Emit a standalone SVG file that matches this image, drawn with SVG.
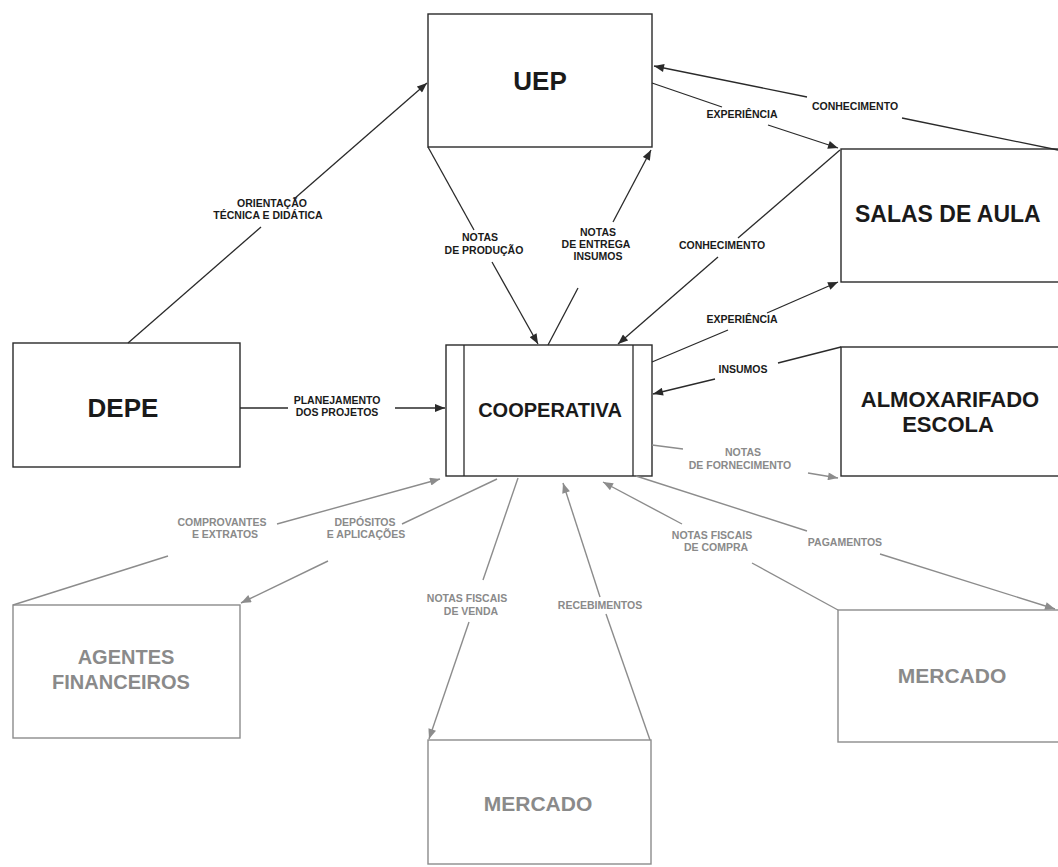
<svg xmlns="http://www.w3.org/2000/svg" width="1058" height="867" viewBox="0 0 1058 867">
<style>
.box{fill:#fff;stroke:#2a2a2a;stroke-width:1.4}
.gbox{fill:#fff;stroke:#8c8c8c;stroke-width:1.4}
.t{font-family:"Liberation Sans",Arial,sans-serif;font-weight:bold;fill:#1a1a1a;text-anchor:middle}
.gt{font-family:"Liberation Sans",Arial,sans-serif;font-weight:bold;fill:#8a8a8a;text-anchor:middle}
.lbl{font-size:10.5px}
.ln{fill:none;stroke:#2a2a2a;stroke-width:1.3}
.gln{fill:none;stroke:#8c8c8c;stroke-width:1.4}
</style>
<defs>
<marker id="ah" viewBox="0 0 10 8" refX="10" refY="4" markerWidth="11" markerHeight="8" orient="auto" markerUnits="userSpaceOnUse"><path d="M0,0 L10,4 L0,8 z" fill="#2a2a2a"/></marker>
<marker id="gah" viewBox="0 0 10 8" refX="10" refY="4" markerWidth="11" markerHeight="8" orient="auto" markerUnits="userSpaceOnUse"><path d="M0,0 L10,4 L0,8 z" fill="#8c8c8c"/></marker>
</defs>
<rect width="1058" height="867" fill="#fff"/>

<g id="uep"><rect class="box" x="428" y="14" width="224" height="133"/><text class="t" x="540" y="90" font-size="26">UEP</text></g>
<g id="cooperativa"><rect class="box" x="446" y="345" width="206" height="131"/><line class="ln" x1="464" y1="345" x2="464" y2="476"/><line class="ln" x1="633" y1="345" x2="633" y2="476"/><text class="t" x="550" y="417" font-size="20">COOPERATIVA</text></g>
<g id="depe"><rect class="box" x="13" y="343" width="227" height="124"/><text class="t" x="123" y="417" font-size="26">DEPE</text></g>
<g id="salas"><rect class="box" x="841" y="149" width="240" height="133"/><text class="t" x="855" y="222" font-size="23" style="text-anchor:start">SALAS DE AULA</text></g>
<g id="almoxarifado"><rect class="box" x="841" y="347" width="240" height="129"/><text class="t" x="950" y="407" font-size="22">ALMOXARIFADO</text><text class="t" x="948" y="432" font-size="22">ESCOLA</text></g>
<g id="agentes"><rect class="gbox" x="13" y="605" width="227" height="133"/><text class="gt" x="126" y="664" font-size="20">AGENTES</text><text class="gt" x="121" y="689" font-size="20">FINANCEIROS</text></g>
<g id="mercado-direita"><rect class="gbox" x="838" y="610" width="240" height="132"/><text class="gt" x="952" y="683" font-size="21">MERCADO</text></g>
<g id="mercado-baixo"><rect class="gbox" x="428" y="740" width="223" height="124"/><text class="gt" x="538" y="811" font-size="21">MERCADO</text></g>

<g id="connectors">
<path class="ln" d="M128,343 L261,227"/><path class="ln" d="M294,199 L427,83" marker-end="url(#ah)"/>
<path class="ln" d="M428,147 L474,230"/><path class="ln" d="M492,262 L538,344" marker-end="url(#ah)"/>
<path class="ln" d="M548,345 L578,288"/><path class="ln" d="M613,222 L651,150" marker-end="url(#ah)"/>
<path class="ln" d="M652,83 L722,107"/><path class="ln" d="M768,125 L838,148" marker-end="url(#ah)"/>
<path class="ln" d="M1058,150 L902,118"/><path class="ln" d="M807,97 L654,66" marker-end="url(#ah)"/>
<path class="ln" d="M840,150 L738,238"/><path class="ln" d="M718,257 L618,344" marker-end="url(#ah)"/>
<path class="ln" d="M652,362 L728,330"/><path class="ln" d="M767,313 L838,282" marker-end="url(#ah)"/>
<path class="ln" d="M841,347 L778,363"/><path class="ln" d="M715,379 L653,394" marker-end="url(#ah)"/>
<path class="ln" d="M240,408 L288,408"/><path class="ln" d="M395,408 L445,408" marker-end="url(#ah)"/>
<path class="gln" d="M652,445 L683,449"/><path class="gln" d="M808,473 L838,478" marker-end="url(#gah)"/>
<path class="gln" d="M13,605 L168,556"/><path class="gln" d="M277,524 L440,479" marker-end="url(#gah)"/>
<path class="gln" d="M497,479 L402,524"/><path class="gln" d="M328,561 L241,603" marker-end="url(#gah)"/>
<path class="gln" d="M518,478 L483,580"/><path class="gln" d="M469,622 L429,739" marker-end="url(#gah)"/>
<path class="gln" d="M650,740 L606,614"/><path class="gln" d="M600,597 L563,483" marker-end="url(#gah)"/>
<path class="gln" d="M838,610 L752,563"/><path class="gln" d="M682,524 L603,482" marker-end="url(#gah)"/>
<path class="gln" d="M636,476 L807,531"/><path class="gln" d="M880,554 L1055,609" marker-end="url(#gah)"/>
</g>

<g id="labels">
<text class="t lbl" x="272" y="207">ORIENTAÇÃO</text>
<text class="t lbl" x="268" y="219">TÉCNICA E DIDÁTICA</text>
<text class="t lbl" x="480" y="241">NOTAS</text>
<text class="t lbl" x="484" y="254">DE PRODUÇÃO</text>
<text class="t lbl" x="598" y="236">NOTAS</text>
<text class="t lbl" x="596" y="248">DE ENTREGA</text>
<text class="t lbl" x="598" y="260">INSUMOS</text>
<text class="t lbl" x="742" y="118">EXPERIÊNCIA</text>
<text class="t lbl" x="855" y="110">CONHECIMENTO</text>
<text class="t lbl" x="722" y="249">CONHECIMENTO</text>
<text class="t lbl" x="742" y="323">EXPERIÊNCIA</text>
<text class="t lbl" x="743" y="373">INSUMOS</text>
<text class="t lbl" x="337" y="404">PLANEJAMENTO</text>
<text class="t lbl" x="337" y="416">DOS PROJETOS</text>
<text class="gt lbl" x="743" y="456">NOTAS</text>
<text class="gt lbl" x="740" y="469">DE FORNECIMENTO</text>
<text class="gt lbl" x="222" y="526">COMPROVANTES</text>
<text class="gt lbl" x="225" y="538">E EXTRATOS</text>
<text class="gt lbl" x="365" y="526">DEPÓSITOS</text>
<text class="gt lbl" x="366" y="538">E APLICAÇÕES</text>
<text class="gt lbl" x="467" y="602">NOTAS FISCAIS</text>
<text class="gt lbl" x="471" y="615">DE VENDA</text>
<text class="gt lbl" x="600" y="609">RECEBIMENTOS</text>
<text class="gt lbl" x="712" y="539">NOTAS FISCAIS</text>
<text class="gt lbl" x="716" y="551">DE COMPRA</text>
<text class="gt lbl" x="845" y="546">PAGAMENTOS</text>
</g>
</svg>
